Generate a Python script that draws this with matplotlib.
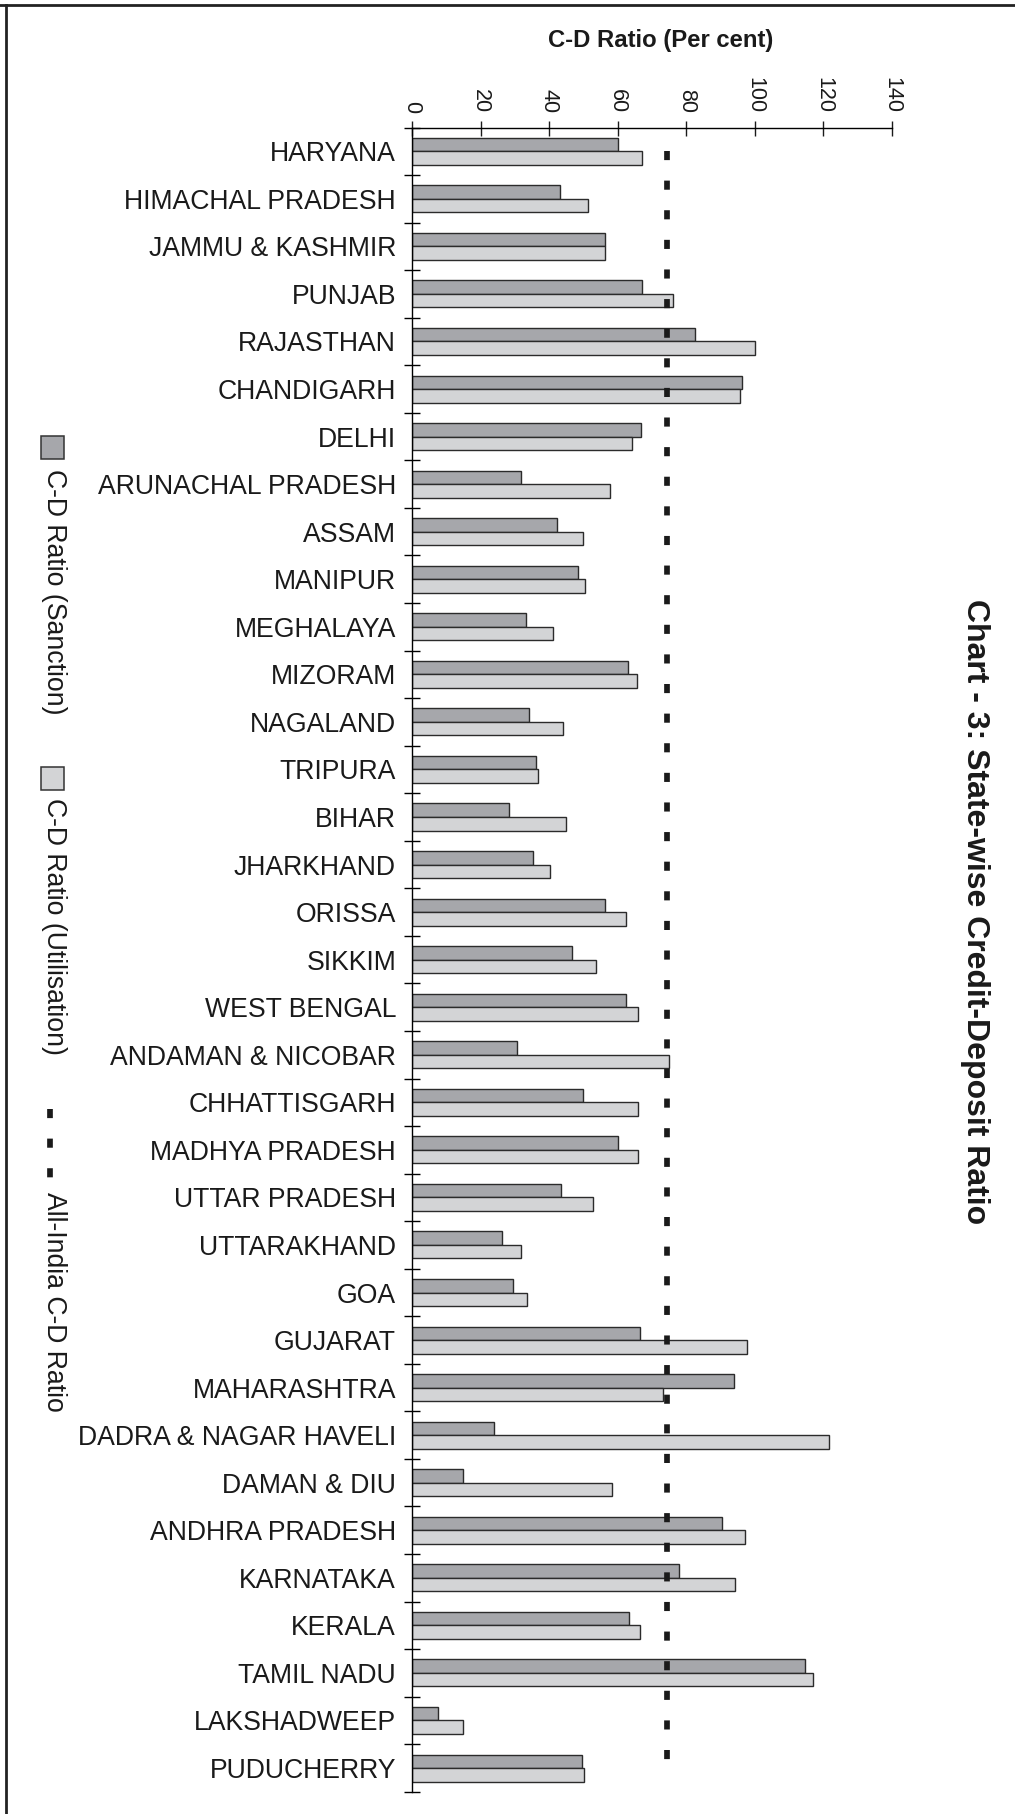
import matplotlib
matplotlib.use('Agg')
import matplotlib.pyplot as plt
import matplotlib.patches as patches
from matplotlib.lines import Line2D
import numpy as np

plt.rcParams['font.family'] = ['Liberation Sans', 'DejaVu Sans']

# Chart data
states = ['HARYANA', 'HIMACHAL PRADESH', 'JAMMU & KASHMIR', 'PUNJAB', 'RAJASTHAN',
          'CHANDIGARH', 'DELHI', 'ARUNACHAL PRADESH', 'ASSAM', 'MANIPUR',
          'MEGHALAYA', 'MIZORAM', 'NAGALAND', 'TRIPURA', 'BIHAR', 'JHARKHAND',
          'ORISSA', 'SIKKIM', 'WEST BENGAL', 'ANDAMAN & NICOBAR', 'CHHATTISGARH',
          'MADHYA PRADESH', 'UTTAR PRADESH', 'UTTARAKHAND', 'GOA', 'GUJARAT',
          'MAHARASHTRA', 'DADRA & NAGAR HAVELI', 'DAMAN & DIU', 'ANDHRA PRADESH',
          'KARNATAKA', 'KERALA', 'TAMIL NADU', 'LAKSHADWEEP', 'PUDUCHERRY']
sanction = [60.1, 43.3, 56.4, 67.2, 82.4, 96.2, 66.9, 31.8, 42.4, 48.4,
            33.2, 62.9, 34.0, 36.2, 28.3, 35.2, 56.3, 46.8, 62.4, 30.7,
            49.9, 60.1, 43.6, 26.2, 29.4, 66.6, 94.0, 23.9, 15.0, 90.5,
            78.0, 63.4, 114.7, 7.6, 49.7]
utilisation = [67.2, 51.4, 56.3, 76.1, 100.0, 95.7, 64.3, 57.7, 49.9, 50.4,
               41.0, 65.5, 43.9, 36.8, 45.0, 40.2, 62.4, 53.7, 65.8, 74.9,
               66.0, 66.0, 52.7, 31.7, 33.6, 97.8, 73.1, 121.7, 58.2, 97.2,
               94.3, 66.4, 116.9, 15.0, 50.1]
all_india = 74.4
x_ticks = [0, 20, 40, 60, 80, 100, 120, 140]

dark_grey = '#a6a7ab'
light_grey = '#d3d4d6'
edge = '#2b2b2b'

W, H = 1015, 1814
fig = plt.figure(figsize=(W / 100, H / 100), dpi=100)
ax = fig.add_axes([412 / W, 1 - 1791.8 / H, 480 / W, 1664.3 / H])

y = np.arange(len(states))
bh = 0.284
ax.barh(y - bh / 2, sanction, height=bh, color=dark_grey, edgecolor=edge, linewidth=1.0)
ax.barh(y + bh / 2, utilisation, height=bh, color=light_grey, edgecolor=edge, linewidth=1.0)

# All-India line drawn across the categories
ax.plot([all_india] * len(states), y, color='#1a1a1a', lw=4.1,
        linestyle=(0, (1.6, 3.6)), solid_capstyle='butt', dash_capstyle='butt')

ax.set_xlim(0, 140)
ax.set_ylim(len(states) - 0.5, -0.5)

# Spines
for s in ['right', 'bottom']:
    ax.spines[s].set_visible(False)
ax.spines['left'].set_linewidth(1.0)
ax.spines['top'].set_linewidth(1.0)

# Value axis on top, labels rotated
ax.xaxis.tick_top()
ax.set_xticks(x_ticks)
ax.set_xticklabels([str(t) for t in x_ticks])
ax.tick_params(axis='x', direction='inout', length=10.8, width=1.0,
               labelsize=15.5, labelrotation=-90, pad=5, colors='#1a1a1a')

# Category axis
ax.set_yticks(y)
ax.set_yticklabels(states)
ax.set_yticks(np.arange(-0.5, len(states), 1), minor=True)
ax.tick_params(axis='y', which='major', length=0, pad=11.5, labelsize=19.2,
               labelcolor='#1a1a1a')
ax.tick_params(axis='y', which='minor', direction='inout', length=11.5, width=1.0)

# Axis title at top
fig.text(661 / W, 1 - 40 / H, 'C-D Ratio (Per cent)', ha='center', va='center',
         fontsize=17.2, fontweight='bold', color='#1a1a1a')

# Chart title on the right, rotated
fig.text(975 / W, 1 - 912 / H, 'Chart - 3: State-wise Credit-Deposit Ratio',
         rotation=-90, ha='center', va='center', fontsize=23,
         fontweight='bold', color='#1a1a1a')

# Legend on the left, rotated
sq = 23
for top, col in [(436, dark_grey), (767, light_grey)]:
    fig.add_artist(patches.Rectangle((41 / W, 1 - (top + sq) / H), sq / W, sq / H,
                                     transform=fig.transFigure, facecolor=col,
                                     edgecolor='#333333', linewidth=1.1))
fig.add_artist(Line2D([50 / W, 50 / W], [1 - 1109 / H, 1 - 1181 / H],
                      transform=fig.transFigure, color='#1a1a1a', lw=4.1,
                      linestyle=(0, (1.6, 3.6)), dash_capstyle='butt'))
for top, label in [(469, 'C-D Ratio (Sanction)'), (798, 'C-D Ratio (Utilisation)'),
                   (1192, 'All-India C-D Ratio')]:
    fig.text(54 / W, 1 - top / H, label, rotation=-90, ha='center', va='top',
             fontsize=19.2, color='#1a1a1a')

# Page border (top and left)
fig.add_artist(Line2D([0, 1], [1 - 4.5 / H, 1 - 4.5 / H], transform=fig.transFigure,
                      color='#222222', lw=2.0))
fig.add_artist(Line2D([5.5 / W, 5.5 / W], [0, 1 - 4.5 / H], transform=fig.transFigure,
                      color='#222222', lw=2.0))

fig.savefig('out.png', dpi=100)
